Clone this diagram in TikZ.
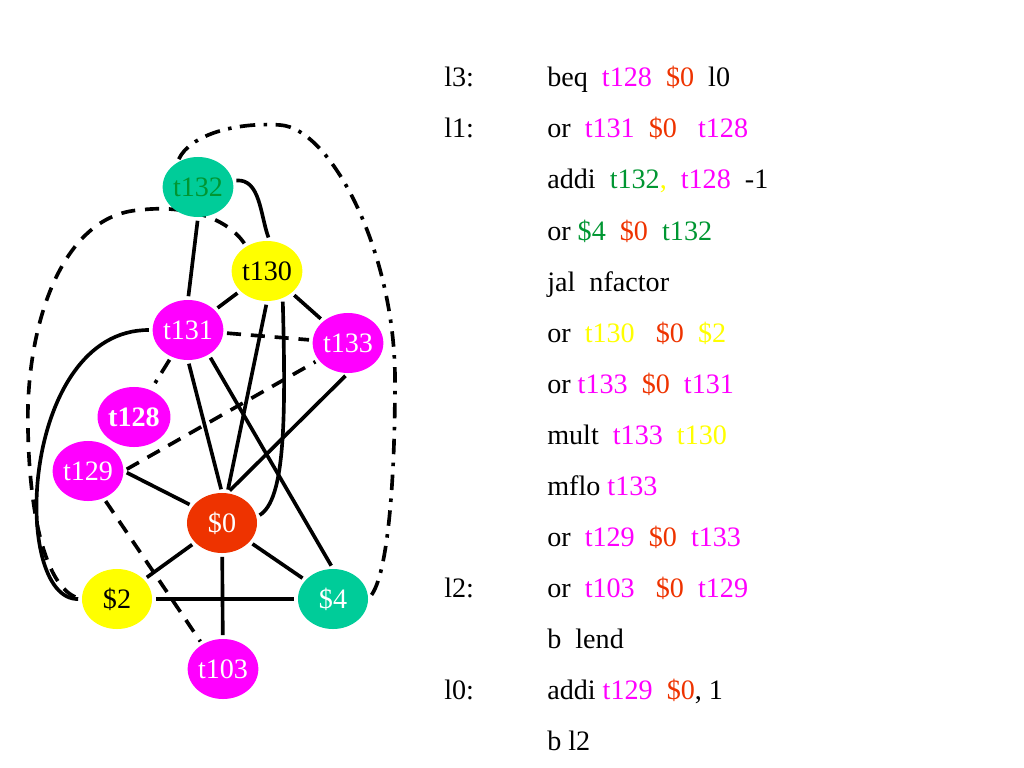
\documentclass[tikz,border=0pt]{standalone}
\usepackage{fontspec}
\setmainfont{Liberation Serif}
\usetikzlibrary{shapes.geometric,backgrounds}
\definecolor{mag}{RGB}{255,0,255}
\definecolor{zero}{RGB}{238,51,0}
\definecolor{grn}{RGB}{0,150,50}
\definecolor{yel}{RGB}{255,255,0}
\definecolor{sea}{RGB}{0,204,153}
\newcommand{\cmag}[1]{\textcolor{mag}{#1}}
\newcommand{\czero}[1]{\textcolor{zero}{#1}}
\newcommand{\cgrn}[1]{\textcolor{grn}{#1}}
\newcommand{\cyel}[1]{\textcolor{yel}{#1}}
\tikzset{
  reg/.style={ellipse, minimum width=1.75cm, minimum height=1.5cm, inner sep=0pt, font=\fontsize{20}{24}\selectfont},
  edge/.style={line width=2.6pt, shorten <=2.5pt, shorten >=2.5pt},
  move/.style={line width=2.6pt, dash pattern=on 10pt off 7pt, shorten <=2.5pt, shorten >=2.5pt},
  movedot/.style={line width=2.6pt, dash pattern=on 11pt off 6pt on 2.5pt off 6pt, shorten <=2.5pt, shorten >=2.5pt},
  code/.style={anchor=base west, inner sep=0pt, font=\fontsize{20}{24}\selectfont}
}
\begin{document}
\begin{tikzpicture}[x=0.025cm, y=0.025cm]
\useasboundingbox (0,0) rectangle (1024,-768);
\node[reg, fill=sea, text=grn] (t132) at (198,-187) {t132};
\node[reg, fill=yel] (t130) at (267,-271) {t130};
\node[reg, fill=mag, text=white] (t131) at (188,-330) {t131};
\node[reg, fill=mag, text=white] (t133) at (348,-343) {t133};
\node[reg, fill=mag, text=white, font=\fontsize{20}{24}\selectfont\bfseries] (t128) at (134,-417) {t128};
\node[reg, fill=mag, text=white] (t129) at (88,-471) {t129};
\node[reg, fill=zero, text=white] (r0) at (222,-523) {\$0};
\node[reg, fill=yel] (r2) at (117,-599) {\$2};
\node[reg, fill=sea, text=white] (r4) at (333,-599) {\$4};
\node[reg, fill=mag, text=white] (t103) at (223,-669) {t103};
\begin{scope}[on background layer]
\draw[edge] (t132.south) -- (t131.north);
\draw[edge] (t132.10) to[out=5,in=110] (t130.85);
\draw[edge] (t131) -- (t130);
\draw[edge] (t130) -- (t133);
\draw[edge] (t130.south) -- (r0.80);
\draw[edge] (t130.-60) .. controls (286,-420) and (285,-500) .. (r0.10);
\draw[edge] (t131.south) -- (r0.north);
\draw[edge] (t133.south) -- (r0.80);
\draw[edge] (t131.-50) -- (r4.north);
\draw[edge] (t131.west) .. controls (20,-330) and (10,-600) .. (r2.west);
\draw[edge] (t129.east) -- (r0.150);
\draw[edge] (r0) -- (r2);
\draw[edge] (r0) -- (r4);
\draw[edge] (r0) -- (t103);
\draw[edge] (r2) -- (r4);
\draw[move] (t131) -- (t133);
\draw[move] (t129.east) -- (t133.210);
\draw[move] (t129.-60) -- (t103.130);
\draw[move] (t130.130) .. controls (225,-215) and (180,-205) .. (140,-210) .. controls (60,-215) and (25,-330) .. (28,-430) .. controls (30,-530) and (50,-590) .. (r2.west);
\draw[movedot] (t131) -- (t128);
\draw[movedot] (t132.130) .. controls (190,-135) and (235,-122) .. (280,-125) .. controls (330,-128) and (395,-250) .. (395,-380) .. controls (395,-480) and (388,-575) .. (r4.east);
\end{scope}
\node[code] (lab3) at (444,-87) {l3:};
\node[code] (lab1) at (444,-138) {l1:};
\node[code] (lab2) at (444,-597) {l2:};
\node[code] (lab0) at (444,-699) {l0:};
\node[code] (i1) at (547,-87) {beq\ \ \cmag{t128}\ \ \czero{\$0}\ \ l0};
\node[code] (i2) at (547,-138) {or\ \ \cmag{t131}\ \ \czero{\$0}\ \ \ \cmag{t128}};
\node[code] (i3) at (547,-189) {addi\ \ \cgrn{t132}\cyel{,}\ \ \cmag{t128}\ \ -1};
\node[code] (i4) at (547,-240) {or \cgrn{\$4}\ \ \czero{\$0}\ \ \cgrn{t132}};
\node[code] (i5) at (547,-291) {jal\ \ nfactor};
\node[code] (i6) at (547,-342) {or\ \ \cyel{t130}\ \ \ \czero{\$0}\ \ \cyel{\$2}};
\node[code] (i7) at (547,-393) {or \cmag{t133}\ \ \czero{\$0}\ \ \cmag{t131}};
\node[code] (i8) at (547,-444) {mult\ \ \cmag{t133}\ \ \cyel{t130}};
\node[code] (i9) at (547,-495) {mflo \cmag{t133}};
\node[code] (i10) at (547,-546) {or\ \ \cmag{t129}\ \ \czero{\$0}\ \ \cmag{t133}};
\node[code] (i11) at (547,-597) {or\ \ \cmag{t103}\ \ \ \czero{\$0}\ \ \cmag{t129}};
\node[code] (i12) at (547,-648) {b\ \ lend};
\node[code] (i13) at (547,-699) {addi \cmag{t129}\ \ \czero{\$0}, 1};
\node[code] (i14) at (547,-750) {b l2};
\end{tikzpicture}
\end{document}
